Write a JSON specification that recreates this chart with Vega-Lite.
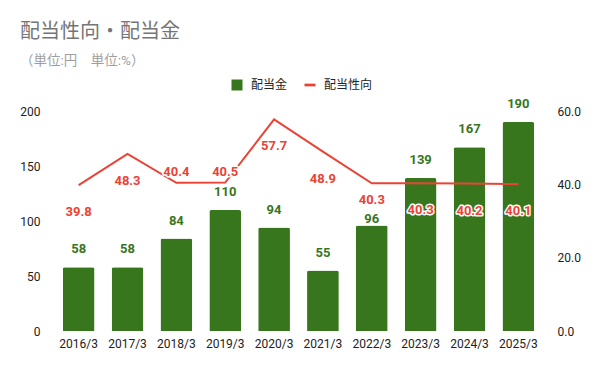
{
  "$schema": "https://vega.github.io/schema/vega-lite/v6.json",
  "width": 491,
  "height": 220,
  "autosize": {"type": "none"},
  "padding": {"left": 53, "top": 111, "right": 56, "bottom": 40},
  "background": "white",
  "config": {
    "font": "Roboto, 'Noto Sans CJK JP', sans-serif",
    "view": {"stroke": null}
  },
  "title": {
    "text": "配当性向・配当金",
    "subtitle": "（単位:円　単位:%）",
    "anchor": "start",
    "frame": "group",
    "dx": -33,
    "offset": 12,
    "fontSize": 20,
    "fontWeight": "normal",
    "color": "#757575",
    "subtitleFontSize": 13.5,
    "subtitleColor": "#9e9e9e",
    "subtitlePadding": 12
  },
  "data": {
    "values": [
      {"year": "2016/3", "dividend": 58, "payout": 39.8},
      {"year": "2017/3", "dividend": 58, "payout": 48.3},
      {"year": "2018/3", "dividend": 84, "payout": 40.4},
      {"year": "2019/3", "dividend": 110, "payout": 40.5},
      {"year": "2020/3", "dividend": 94, "payout": 57.7},
      {"year": "2021/3", "dividend": 55, "payout": 48.9},
      {"year": "2022/3", "dividend": 96, "payout": 40.3},
      {"year": "2023/3", "dividend": 139, "payout": 40.3},
      {"year": "2024/3", "dividend": 167, "payout": 40.2},
      {"year": "2025/3", "dividend": 190, "payout": 40.1}
    ]
  },
  "encoding": {
    "x": {
      "field": "year",
      "type": "ordinal",
      "scale": {"paddingInner": 0.35, "paddingOuter": 0.2},
      "axis": {
        "title": null,
        "labelAngle": 0,
        "domain": false,
        "ticks": false,
        "labelPadding": 7,
        "labelFontSize": 12,
        "labelColor": "#222222"
      }
    }
  },
  "layer": [
    {
      "encoding": {
        "y": {
          "field": "dividend",
          "type": "quantitative",
          "scale": {"domain": [0, 200]},
          "axis": {
            "title": null,
            "values": [0, 50, 100, 150, 200],
            "domain": false,
            "ticks": false,
            "grid": false,
            "labelPadding": 13,
            "labelFontSize": 12,
            "labelColor": "#222222"
          }
        }
      },
      "layer": [
        {
          "mark": {"type": "bar", "cornerRadiusTopLeft": 2, "cornerRadiusTopRight": 2},
          "encoding": {
            "color": {
              "datum": "配当金",
              "scale": {"domain": ["配当金", "配当性向"], "range": ["#38761d", "#ea4335"]},
              "legend": {
                "title": null,
                "orient": "none",
                "direction": "horizontal",
                "legendX": 178,
                "legendY": -32,
                "padding": 0,
                "symbolSize": 121,
                "labelFontSize": 12,
                "labelColor": "#222222",
                "labelOffset": 8,
                "columnPadding": 16,
                "encode": {
                  "symbols": {
                    "update": {
                      "shape": [
                        {"test": "datum.value === '配当性向'", "value": "M-1,-0.25H1V0.25H-1Z"},
                        {"value": "square"}
                      ],
                      "fill": {"scale": "color", "field": "value"},
                      "stroke": {"value": "transparent"},
                      "strokeWidth": {"value": 0},
                      "opacity": {"value": 1}
                    }
                  }
                }
              }
            }
          }
        },
        {
          "mark": {
            "type": "text",
            "fontSize": 13,
            "fontWeight": "bold",
            "color": "#38761d",
            "baseline": "middle",
            "dy": {"expr": "datum.year === '2022/3' ? -6 : -18"}
          },
          "encoding": {
            "text": {"field": "dividend", "type": "quantitative"}
          }
        }
      ]
    },
    {
      "encoding": {
        "y": {
          "field": "payout",
          "type": "quantitative",
          "scale": {"domain": [0, 60]},
          "axis": {
            "title": null,
            "orient": "right",
            "values": [0, 20, 40, 60],
            "format": ".1f",
            "domain": false,
            "ticks": false,
            "grid": false,
            "labelPadding": 13,
            "labelFontSize": 12,
            "labelColor": "#222222"
          }
        }
      },
      "layer": [
        {
          "mark": {"type": "line", "strokeWidth": 2},
          "encoding": {
            "color": {"datum": "配当性向"}
          }
        },
        {
          "mark": {
            "type": "text",
            "fontSize": 13,
            "fontWeight": "bold",
            "color": "white",
            "stroke": "white",
            "strokeWidth": 3,
            "strokeJoin": "round",
            "baseline": "middle",
            "dy": {"expr": "(datum.year === '2018/3' || datum.year === '2019/3') ? -11 : (datum.year === '2022/3' ? 17 : 27)"}
          },
          "encoding": {
            "text": {"field": "payout", "type": "quantitative", "format": ".1f"}
          }
        },
        {
          "mark": {
            "type": "text",
            "fontSize": 13,
            "fontWeight": "bold",
            "color": "#ea4335",
            "baseline": "middle",
            "dy": {"expr": "(datum.year === '2018/3' || datum.year === '2019/3') ? -11 : (datum.year === '2022/3' ? 17 : 27)"}
          },
          "encoding": {
            "text": {"field": "payout", "type": "quantitative", "format": ".1f"}
          }
        }
      ]
    }
  ],
  "resolve": {"scale": {"y": "independent"}}
}
